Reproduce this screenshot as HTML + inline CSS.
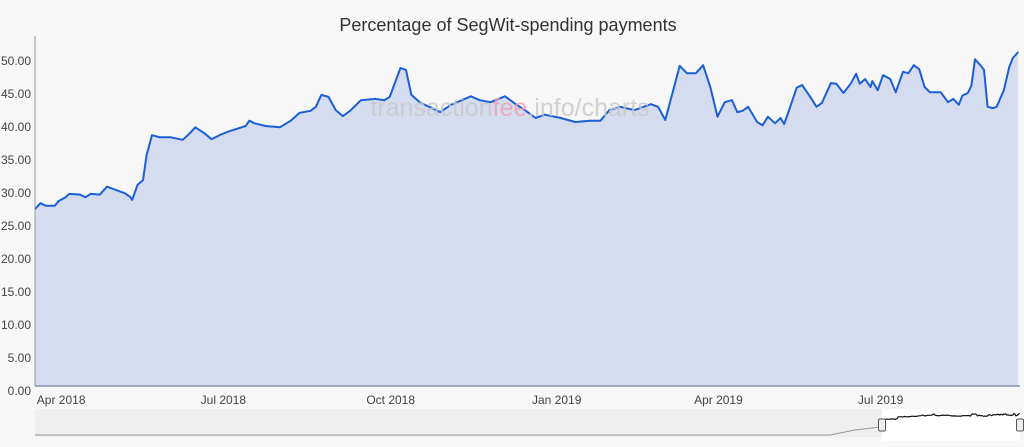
<!DOCTYPE html>
<html><head><meta charset="utf-8"><style>
body{margin:0;background:#f7f7f7;font-family:"Liberation Sans",sans-serif;}
svg{display:block}
</style></head><body>
<svg id="c" width="1024" height="447" xmlns="http://www.w3.org/2000/svg">
<rect x="0" y="0" width="1024" height="447" fill="#f7f7f7"/>
<text x="508" y="31" text-anchor="middle" font-size="18" fill="#333">Percentage of SegWit-spending payments</text>
<g id="plot"></g>
<text x="510" y="116" text-anchor="middle" font-size="25" fill="#c8c8c8" opacity="0.8">transaction<tspan fill="#f2a0b0">fee</tspan>.info/charts</text>
<g id="nav"></g>
</svg>
<script>
const days=[0,3,6,11,13,17,19,25,28,31,36,40,44,50,53,54,57,60,62,65,69,75,82,86,89,94,98,104,108,117,119,122,128,136,142,147,153,156,159,163,167,171,175,181,189,194,197,203,206,209,214,219,225,231,242,247,253,261,267,272,278,283,292,300,308,314,319,325,333,342,346,350,358,362,367,371,375,379,383,387,390,393,396,401,404,407,411,414,416,418,423,426,431,434,437,442,445,449,453,456,458,461,464,465,468,471,475,478,482,485,488,491,494,497,503,507,510,513,515,518,520,522,525,527,529,532,534,538,541,543,546];
const values=[26.8,27.7,27.3,27.3,28.0,28.6,29.1,29.0,28.6,29.1,29.0,30.2,29.8,29.2,28.6,28.2,30.5,31.2,35.0,38.0,37.7,37.7,37.3,38.3,39.2,38.3,37.4,38.2,38.6,39.4,40.2,39.8,39.4,39.2,40.2,41.4,41.7,42.3,44.1,43.8,41.8,40.9,41.7,43.3,43.5,43.3,43.8,48.2,47.9,44.1,42.9,42.3,41.5,42.6,43.9,43.3,43.0,43.9,42.7,41.8,40.6,41.1,40.6,40.0,40.2,40.2,41.8,42.3,41.8,42.7,42.3,40.3,48.5,47.4,47.4,48.6,45.3,40.8,43.0,43.3,41.5,41.7,42.3,40.0,39.5,40.8,39.8,40.6,39.7,41.2,45.2,45.6,43.6,42.3,42.9,45.9,45.8,44.4,45.8,47.3,45.8,46.5,45.3,46.2,44.8,47.1,46.5,44.5,47.6,47.4,48.6,48.0,45.3,44.5,44.5,43.0,43.5,42.6,44.0,44.4,45.5,49.5,48.6,47.9,42.3,42.1,42.3,44.8,48.3,49.7,50.6];
const yTicks=[0,5,10,15,20,25,30,35,40,45,50];
const xTickLabels=["Apr 2018","Jul 2018","Oct 2018","Jan 2019","Apr 2019","Jul 2019"];
const xTickDays=[1,92,184,276,366,457];
const NS="http://www.w3.org/2000/svg";
const X0=35,X1=1020,Y0=386,DMAX=547;
const xs=d=>X0+d*(X1-X0)/DMAX;
const ys=v=>Y0-v*6.6;
const plot=document.getElementById('plot');
function mk(tag,attrs,parent){const e=document.createElementNS(NS,tag);for(const k in attrs)e.setAttribute(k,attrs[k]);parent.appendChild(e);return e;}
let pts=days.map((d,i)=>xs(d).toFixed(1)+','+ys(values[i]).toFixed(1));
let area=mk('path',{d:'M'+xs(days[0])+','+Y0+' L'+pts.join(' L')+' L'+xs(days[days.length-1])+','+Y0+' Z',fill:'#d6dcf0'},plot);


let line=mk('path',{d:'M'+pts.join(' L'),fill:'none',stroke:'#1a5fd6','stroke-width':2,'stroke-linejoin':'round'},plot);


let ya=mk('line',{x1:X0,y1:36,x2:X0,y2:Y0,stroke:'#999','stroke-width':1},plot);


let xa=mk('line',{x1:X0,y1:Y0,x2:X1,y2:Y0,stroke:'#8890a8','stroke-width':1.5},plot);


yTicks.forEach(v=>{const t=mk('text',{x:31,y:ys(v)+9,'text-anchor':'end','font-size':12,fill:'#444'},plot);t.textContent=v.toFixed(2);

});
xTickLabels.forEach((l,i)=>{const t=mk('text',{x:xs(xTickDays[i]),y:404,'font-size':12,fill:'#444'},plot);t.textContent=l;

});
const nav=document.getElementById('nav');
let nb=mk('rect',{x:35,y:409,width:985,height:28,fill:'#efefef'},nav);


let ns=mk('rect',{x:882,y:409,width:138,height:32,fill:'#ffffff'},nav);


let nl=mk('path',{d:'M35,435 L830,435 L845,432 L855,430 L880,427',fill:'none',stroke:'#999','stroke-width':1},nav);


let navPts=days.filter(d=>d>=0).map((d,i)=>(882+d*138/DMAX).toFixed(1)+','+(427-values[i]*0.27).toFixed(1));
let nl2=mk('path',{d:'M'+navPts.join(' L'),fill:'none',stroke:'#111','stroke-width':1.2},nav);


[882,1020].forEach(x=>{const h=mk('rect',{x:x-3.5,y:419,width:7,height:12,rx:1.5,fill:'#eee',stroke:'#555','stroke-width':1},nav);

});
</script>
</body></html>
